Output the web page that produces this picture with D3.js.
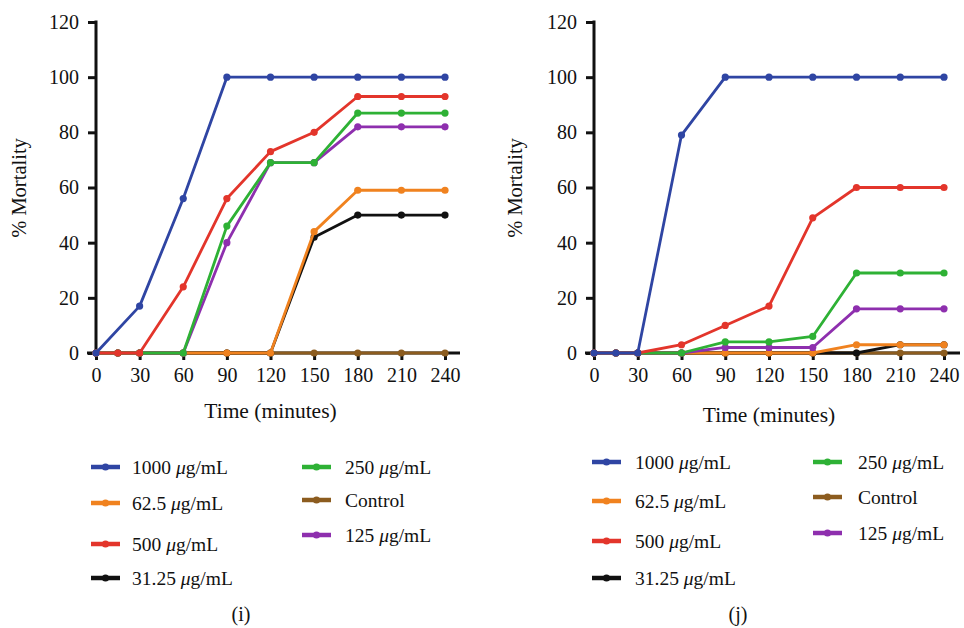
<!DOCTYPE html>
<html><head><meta charset="utf-8">
<script src="https://cdn.jsdelivr.net/npm/d3@7/dist/d3.min.js"></script>
<style>body{margin:0;background:#fff}svg{display:block}text{font-family:"Liberation Serif","Times New Roman",serif;fill:#111}</style>
</head><body>
<svg id="c" width="964" height="628"></svg>
<script>
// ---- data ----
const timesFull = [0, 15, 30, 60, 90, 120, 150, 180, 210, 240];
const timesNo15 = [0, 30, 60, 90, 120, 150, 180, 210, 240];
const xTicks = [0, 30, 60, 90, 120, 150, 180, 210, 240];
const yTicks = [0, 20, 40, 60, 80, 100, 120];
const seriesNames = ["Control", "31.25 \u03bcg/mL", "62.5 \u03bcg/mL", "125 \u03bcg/mL", "250 \u03bcg/mL", "500 \u03bcg/mL", "1000 \u03bcg/mL"];
const seriesColors = ["#8c5c1f", "#111111", "#f0821f", "#8e2fae", "#2eb135", "#e3352b", "#2f45a3"];

// panel (i)
const iControl = [0, 0, 0, 0, 0, 0, 0, 0, 0, 0];
const i3125 = [0, 0, 0, 0, 0, 0, 42, 50, 50, 50];
const i625 = [0, 0, 0, 0, 0, 0, 44, 59, 59, 59];
const i125 = [0, 0, 0, 0, 40, 69, 69, 82, 82, 82];
const i250 = [0, 0, 0, 0, 46, 69, 69, 87, 87, 87];
const i500 = [0, 0, 0, 24, 56, 73, 80, 93, 93, 93];
const i1000 = [0, 17, 56, 100, 100, 100, 100, 100, 100];

// panel (j)
const jControl = [0, 0, 0, 0, 0, 0, 0, 0, 0, 0];
const j3125 = [0, 0, 0, 0, 0, 0, 0, 0, 3, 3];
const j625 = [0, 0, 0, 0, 0, 0, 0, 3, 3, 3];
const j125 = [0, 0, 0, 0, 2, 2, 2, 16, 16, 16];
const j250 = [0, 0, 0, 0, 4, 4, 6, 29, 29, 29];
const j500 = [0, 0, 0, 3, 10, 17, 49, 60, 60, 60];
const j1000 = [0, 0, 0, 79, 100, 100, 100, 100, 100, 100];

// legend layout order: [seriesIndex]
const legendCol1 = [6, 2, 5, 1];
const legendCol2 = [4, 0, 3];

const panels = [
  { cap: "(i)", x0: 96, x1: 445, axisEnd: 460, ylabX: 20, timeY: 418, capX: 241,
    series: [[timesFull, iControl], [timesFull, i3125], [timesFull, i625], [timesFull, i125], [timesFull, i250], [timesFull, i500], [timesNo15, i1000]],
    leg: { c1x: 91, c1t: 132, c1y: [467, 503, 544, 578], c2x: 302, c2t: 345, c2y: [467, 500, 535] } },
  { cap: "(j)", x0: 594, x1: 944, axisEnd: 960, ylabX: 516, timeY: 422, capX: 738,
    series: [[timesFull, jControl], [timesFull, j3125], [timesFull, j625], [timesFull, j125], [timesFull, j250], [timesFull, j500], [timesFull, j1000]],
    leg: { c1x: 592, c1t: 635, c1y: [462, 501, 541, 578], c2x: 813, c2t: 858, c2y: [462, 497, 533] } }
];

const svg = d3.select("#c");
const y = d3.scaleLinear().domain([0, 120]).range([353, 22]);

panels.forEach(p => {
  const g = svg.append("g");
  const x = d3.scaleLinear().domain([0, 240]).range([p.x0, p.x1]);

  // x axis
  g.append("line").attr("x1", p.x0 - 9).attr("x2", p.axisEnd).attr("y1", y(0)).attr("y2", y(0))
    .attr("stroke", "#111").attr("stroke-width", 3);
  const xa = g.append("g").attr("transform", `translate(0,${y(0)})`)
    .call(d3.axisBottom(x).tickValues(xTicks).tickSize(7).tickPadding(8).tickFormat(d3.format("d")));
  xa.select(".domain").remove();
  xa.selectAll(".tick line").attr("stroke", "#111").attr("stroke-width", 3);
  xa.selectAll(".tick text").attr("font-size", 20).attr("fill", "#111")
    .attr("font-family", "Liberation Serif");

  // y axis
  const ya = g.append("g").attr("transform", `translate(${p.x0},0)`)
    .call(d3.axisLeft(y).tickValues(yTicks).tickSize(8).tickPadding(9).tickFormat(d3.format("d")));
  ya.select(".domain").attr("stroke", "#111").attr("stroke-width", 3).attr("d", `M0,${y(0)}V${y(120) - 1.5}`);
  ya.selectAll(".tick line").attr("stroke", "#111").attr("stroke-width", 3);
  ya.selectAll(".tick text").attr("font-size", 20).attr("fill", "#111")
    .attr("font-family", "Liberation Serif");

  // titles
  g.append("text").attr("x", (p.x0 + p.x1) / 2).attr("y", p.timeY).attr("text-anchor", "middle")
    .attr("font-size", 21.5).text("Time (minutes)");
  g.append("text").attr("transform", `translate(${p.ylabX + 6},188) rotate(-90)`).attr("text-anchor", "middle")
    .attr("font-size", 20.5).text("% Mortality");
  g.append("text").attr("x", p.capX).attr("y", 621).attr("text-anchor", "middle")
    .attr("font-size", 20).text(p.cap);

  // series
  const line = d3.line().x(d => x(d[0])).y(d => y(d[1]));
  p.series.forEach((s, i) => {
    const pts = s[0].map((t, k) => [t, s[1][k]]);
    const sg = g.append("g");
    sg.append("path").datum(pts).attr("d", line).attr("fill", "none")
      .attr("stroke", seriesColors[i]).attr("stroke-width", 2.8).attr("stroke-linejoin", "round");
    sg.selectAll("circle").data(pts).join("circle")
      .attr("cx", d => x(d[0])).attr("cy", d => y(d[1])).attr("r", 3.6).attr("fill", seriesColors[i]);
  });

  // legend
  const drawLeg = (idx, lx, tx, yy) => {
    g.append("line").attr("x1", lx).attr("x2", lx + 29).attr("y1", yy).attr("y2", yy)
      .attr("stroke", seriesColors[idx]).attr("stroke-width", 4.5);
    g.append("circle").attr("cx", lx + 14.5).attr("cy", yy).attr("r", 3.6).attr("fill", seriesColors[idx]);
    const t = g.append("text").attr("x", tx).attr("y", yy + 7).attr("font-size", 19.5);
    const name = seriesNames[idx];
    if (name.indexOf("\u03bc") >= 0) {
      const parts = name.split("\u03bc");
      t.append("tspan").text(parts[0]);
      t.append("tspan").attr("font-style", "italic").text("\u03bc");
      t.append("tspan").text(parts[1]);
    } else t.text(name);
  };
  legendCol1.forEach((idx, k) => drawLeg(idx, p.leg.c1x, p.leg.c1t, p.leg.c1y[k]));
  legendCol2.forEach((idx, k) => drawLeg(idx, p.leg.c2x, p.leg.c2t, p.leg.c2y[k]));
});
</script>
</body></html>
